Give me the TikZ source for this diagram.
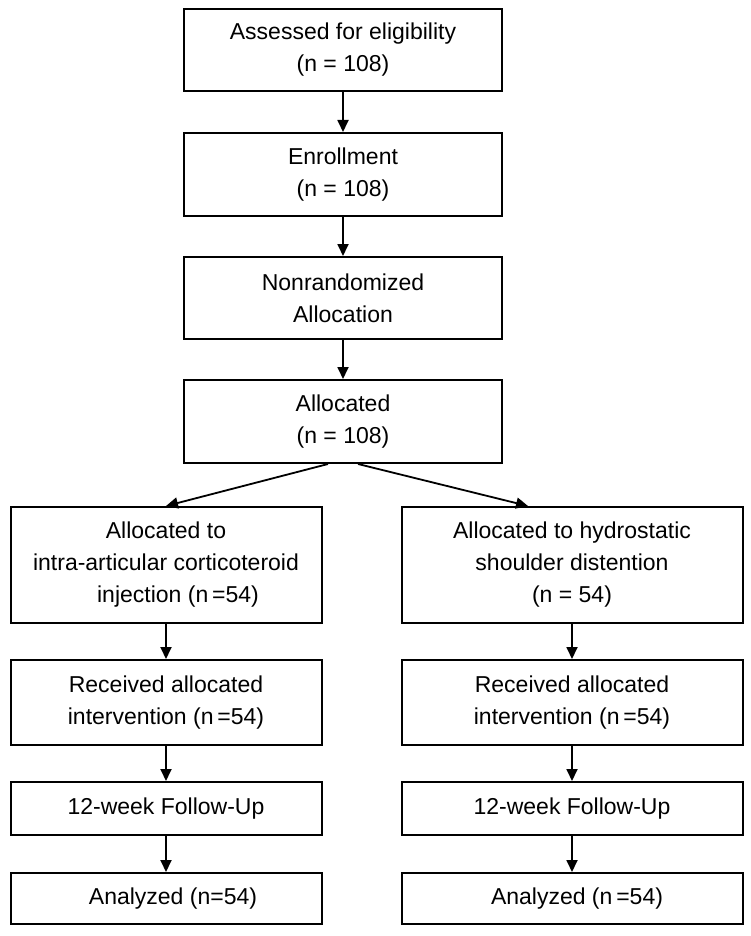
\documentclass[tikz,border=0pt]{standalone}
\usepackage{fontspec}
\setmainfont{Liberation Sans}
\usetikzlibrary{arrows.meta}
\begin{document}
\begin{tikzpicture}[x=1pt,y=-1pt,
  box/.style={draw=black, line width=2pt, rectangle, align=center,
    inner sep=0pt, font=\fontsize{23}{32}\selectfont},
  flow/.style={draw=black, line width=1.8pt, -{Triangle[length=12pt,width=11pt]}}]
  \useasboundingbox (0,0) rectangle (750,936);
  % central column
  \node[box, minimum width=318pt, minimum height=82pt] (assess) at (343,50)
    {Assessed for eligibility\\(n = 108)};
  \node[box, minimum width=318pt, minimum height=83pt] (enrol) at (343,174.5)
    {Enrollment\\(n = 108)};
  \node[box, minimum width=318pt, minimum height=82pt] (nonrand) at (343,298)
    {Nonrandomized\\Allocation};
  \node[box, minimum width=318pt, minimum height=83pt] (alloc) at (343,421.5)
    {Allocated\\(n = 108)};
  % left arm
  \node[box, minimum width=311pt, minimum height=116pt] (l1) at (166,565)
    {Allocated to\\intra-articular corticoteroid\\\hspace*{24pt}injection (n\,=54)};
  \node[box, minimum width=311pt, minimum height=85pt] (l2) at (166,702.5)
    {Received allocated\\intervention (n\,=54)};
  \node[box, minimum width=311pt, minimum height=53pt] (l3) at (166,808.5)
    {12-week Follow-Up};
  \node[box, minimum width=311pt, minimum height=51pt] (l4) at (166,898.5)
    {\hspace*{14pt}Analyzed (n=54)};
  % right arm
  \node[box, minimum width=341pt, minimum height=116pt] (r1) at (572,565)
    {Allocated to hydrostatic\\shoulder distention\\(n = 54)};
  \node[box, minimum width=341pt, minimum height=85pt] (r2) at (572,702.5)
    {Received allocated\\intervention (n\,=54)};
  \node[box, minimum width=341pt, minimum height=53pt] (r3) at (572,808.5)
    {12-week Follow-Up};
  \node[box, minimum width=341pt, minimum height=51pt] (r4) at (572,898.5)
    {\hspace*{10pt}Analyzed (n\,=54)};
  % split points
  \coordinate (splitL) at ([xshift=-15pt]alloc.south);
  \coordinate (splitR) at ([xshift=15pt]alloc.south);
  \coordinate (r1in) at ([xshift=-44pt]r1.north);
  % connectors
  \draw[flow] (assess) -- (enrol);
  \draw[flow] (enrol) -- (nonrand);
  \draw[flow] (nonrand) -- (alloc);
  \draw[flow] (splitL) -- (l1.north);
  \draw[flow] (splitR) -- (r1in);
  \draw[flow] (l1) -- (l2);
  \draw[flow] (l2) -- (l3);
  \draw[flow] (l3) -- (l4);
  \draw[flow] (r1) -- (r2);
  \draw[flow] (r2) -- (r3);
  \draw[flow] (r3) -- (r4);
\end{tikzpicture}
\end{document}
